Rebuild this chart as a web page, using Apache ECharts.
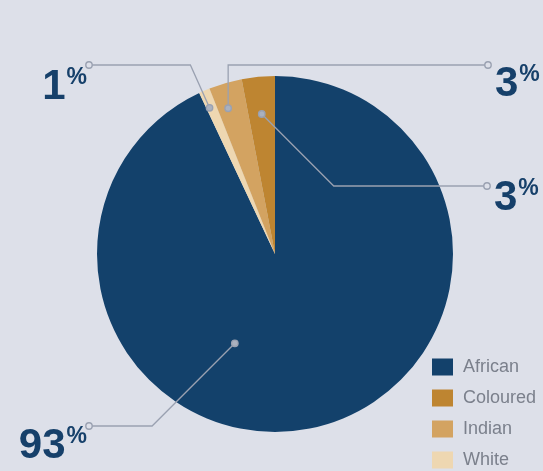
<!DOCTYPE html>
<html>
<head>
<meta charset="utf-8">
<script src="https://cdn.jsdelivr.net/npm/echarts@6/dist/echarts.min.js"></script>
<style>
  html, body { margin: 0; padding: 0; background: #dde0e9; }
  #chart { width: 543px; height: 471px; }
</style>
</head>
<body>
<div id="chart"></div>
<script>
// Population share by group (%)
const categories = ['African', 'Coloured', 'Indian', 'White'];
const shares = [93, 3, 3, 1];
// Slices run clockwise from 12 o'clock in this order
const sliceOrder = ['African', 'White', 'Indian', 'Coloured'];

const palette = { African: '#13416b', Coloured: '#be8531', Indian: '#d3a361', White: '#eed7b1' };
const ink = '#16406a';
const leaderGray = '#9aa1b1';
const bg = '#dde0e9';
const FONT = '"Liberation Sans", Arial, Helvetica, sans-serif';

const CX = 275, CY = 254, R = 178;
const LABEL_TOP_SHIFT = -1;

// Leader geometry per slice: start point (fraction of the slice's sweep, fraction of radius),
// direction of the first leg, y of the horizontal leg (offset from centre), and where it ends.
const leaders = {
  African:  { along: 0.61, depth: 0.55, dir: [-1, 1],  shelf: 172,  end: -186, textDy: 0 },
  White:    { along: 0.3,  depth: 0.9,  dir: 'radial', shelf: -189, end: -186, textDy: 2 },
  Indian:   { along: 0.35, depth: 0.86, dir: [0, -1],  shelf: -189, end: 213,  textDy: -1 },
  Coloured: { along: 0.5,  depth: 0.79, dir: [1, 1],   shelf: -68,  end: 212,  textDy: -8 }
};

const total = shares.reduce((a, b) => a + b, 0);
const shareOf = name => shares[categories.indexOf(name)];

// Work out anchor / elbow / end of each leader from the slice's angular span
const geometry = {};
let acc = 0;
sliceOrder.forEach(name => {
  const frac = shareOf(name) / total;
  const spec = leaders[name];
  const a = (90 - 360 * (acc + frac * spec.along)) * Math.PI / 180;
  acc += frac;
  const ax = CX + R * spec.depth * Math.cos(a);
  const ay = CY - R * spec.depth * Math.sin(a);
  let dx, dy;
  if (spec.dir === 'radial') { dx = Math.cos(a); dy = -Math.sin(a); }
  else { dx = spec.dir[0]; dy = spec.dir[1]; }
  const sy = CY + spec.shelf;
  const t = (sy - ay) / dy;
  geometry[name] = {
    anchor: [ax, ay],
    elbow: [ax + dx * t, sy],
    end: [CX + spec.end, sy],
    left: spec.end < 0,
    textDy: spec.textDy
  };
});

// Leader lines sit above the slices, with a small ring at each end
const leaderGraphics = [];
sliceOrder.forEach(name => {
  const g = geometry[name];
  leaderGraphics.push({ type: 'polyline', shape: { points: [g.anchor, g.elbow, g.end] },
    style: { stroke: leaderGray, lineWidth: 1.3, fill: null }, z: 90, silent: true });
  leaderGraphics.push({ type: 'circle', shape: { cx: g.anchor[0], cy: g.anchor[1], r: 3.2 },
    style: { fill: '#aab1bf', stroke: leaderGray, lineWidth: 1.4 }, z: 100, silent: true });
  leaderGraphics.push({ type: 'circle', shape: { cx: g.end[0], cy: g.end[1], r: 3.2 },
    style: { fill: bg, stroke: leaderGray, lineWidth: 1.4 }, z: 100, silent: true });
});

const chart = echarts.init(document.getElementById('chart'), null, { renderer: 'canvas' });
chart.setOption({
  backgroundColor: bg,
  animation: false,
  legend: {
    data: categories,
    orient: 'vertical',
    left: 432,
    top: 358,
    padding: 0,
    itemWidth: 21,
    itemHeight: 17,
    itemGap: 13,
    icon: 'rect',
    selectedMode: false,
    textStyle: { fontFamily: FONT, fontSize: 18, color: '#7b808c', padding: [0, 0, 0, 5] }
  },
  graphic: leaderGraphics,
  series: [{
    type: 'pie',
    center: [CX, CY],
    radius: R,
    startAngle: 90,
    clockwise: true,
    avoidLabelOverlap: false,
    silent: true,
    itemStyle: { borderWidth: 0 },
    data: sliceOrder.map(name => ({
      name: name,
      value: shareOf(name),
      itemStyle: { color: palette[name] }
    })),
    label: {
      show: true,
      position: 'outside',
      formatter: p => '{n|' + p.value + '}{p|%}',
      rich: {
        n: { fontFamily: FONT, fontSize: 42, fontWeight: 'bold', color: ink, lineHeight: 42 },
        p: { fontFamily: FONT, fontSize: 23, fontWeight: 'bold', color: ink, lineHeight: 23,
             verticalAlign: 'top', padding: [0, 0, 0, 1] }
      }
    },
    labelLine: { show: false },
    labelLayout: function (params) {
      const g = geometry[sliceOrder[params.dataIndex]];
      return {
        x: g.left ? g.end[0] - 2 : g.end[0] + 7,
        y: g.end[1] + g.textDy + LABEL_TOP_SHIFT,
        align: g.left ? 'right' : 'left',
        verticalAlign: 'top'
      };
    }
  }]
});
</script>
</body>
</html>
